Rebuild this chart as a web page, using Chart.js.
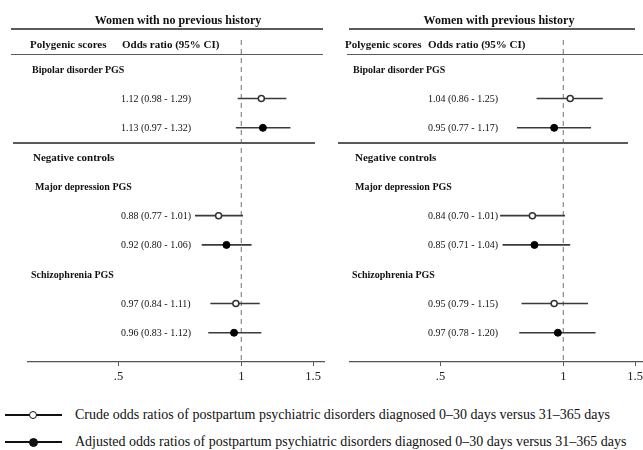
<!DOCTYPE html>
<html>
<head>
<meta charset="utf-8">
<script src="https://cdn.jsdelivr.net/npm/chart.js@4.4.0/dist/chart.umd.min.js"></script>
<style>
  html, body { margin:0; padding:0; background:#fff; }
  #wrap { position:relative; width:643px; height:450px; overflow:hidden; font-family:"Liberation Serif","Times New Roman",serif; color:#111; }
  canvas { position:absolute; top:0; }
  .t { position:absolute; white-space:nowrap; line-height:1; }
  .b { font-weight:bold; }
  .rule { position:absolute; height:1.5px; background:#5a5a5a; }
</style>
</head>
<body>
<div id="wrap">
  <canvas id="c1" width="330" height="392" style="left:0px"></canvas>
  <canvas id="c2" width="330" height="392" style="left:322px"></canvas>
</div>
<script>
// ---------- data ----------
const panelTitles = ['Women with no previous history', 'Women with previous history'];
const colHeaders = ['Polygenic scores', 'Odds ratio (95% CI)'];
const sectionLabel = 'Negative controls';
const groups = ['Bipolar disorder PGS', 'Major depression PGS', 'Schizophrenia PGS'];
const estimateType = ['crude', 'adjusted', 'crude', 'adjusted', 'crude', 'adjusted'];

const noHistOR = [1.12, 1.13, 0.88, 0.92, 0.97, 0.96];
const noHistLo = [0.98, 0.97, 0.77, 0.80, 0.84, 0.83];
const noHistHi = [1.29, 1.32, 1.01, 1.06, 1.11, 1.12];

const prevHistOR = [1.04, 0.95, 0.84, 0.85, 0.95, 0.97];
const prevHistLo = [0.86, 0.77, 0.70, 0.71, 0.79, 0.78];
const prevHistHi = [1.25, 1.17, 1.01, 1.04, 1.15, 1.20];

const xTicks = [0.5, 1, 1.5];
const xTickLabels = ['.5', '1', '1.5'];
const nullValue = 1;

const legendLabels = [
  'Crude odds ratios of postpartum psychiatric disorders diagnosed 0\u201330 days versus 31\u2013365 days',
  'Adjusted odds ratios of postpartum psychiatric disorders diagnosed 0\u201330 days versus 31\u2013365 days'
];

// ---------- layout (row slots) ----------
const groupRow = [0, 4, 7];
const sectionRow = 3;
const dataRow = [1, 2, 5, 6, 8, 9];

const wrap = document.getElementById('wrap');
function addText(txt, x, y, size, bold, align) {
  const d = document.createElement('div');
  d.className = 't' + (bold ? ' b' : '');
  d.textContent = txt;
  d.style.fontSize = size + 'px';
  d.style.left = x + 'px';
  d.style.top = y + 'px';
  d.style.transform = align === 'right' ? 'translate(-100%,-50%)' : (align === 'center' ? 'translate(-50%,-50%)' : 'translate(0,-50%)');
  wrap.appendChild(d);
  return d;
}
function addRule(x1, x2, y) {
  const d = document.createElement('div');
  d.className = 'rule';
  d.style.left = x1 + 'px';
  d.style.width = (x2 - x1) + 'px';
  d.style.top = (y - 0.75) + 'px';
  wrap.appendChild(d);
}

function makePanel(canvasId, or, lo, hi, cfg) {
  const datasets = [];
  datasets.push({
    data: [{x: nullValue, y: -1}, {x: nullValue, y: 10}],
    showLine: true, borderColor: '#707070', borderWidth: 1, borderDash: [5, 4],
    pointRadius: 0, order: 3
  });
  or.forEach((v, i) => {
    datasets.push({
      data: [{x: lo[i], y: dataRow[i]}, {x: hi[i], y: dataRow[i]}],
      showLine: true, borderColor: '#3a3a3a', borderWidth: 1.6,
      pointRadius: 0, order: 2
    });
  });
  datasets.push({
    data: or.map((v, i) => ({x: v, y: dataRow[i]})).filter((p, i) => estimateType[i] === 'crude'),
    pointRadius: 3, pointBackgroundColor: '#ffffff', pointBorderColor: '#333',
    pointBorderWidth: 1.5, order: 1
  });
  datasets.push({
    data: or.map((v, i) => ({x: v, y: dataRow[i]})).filter((p, i) => estimateType[i] === 'adjusted'),
    pointRadius: 3.5, pointBackgroundColor: '#000', pointBorderColor: '#000',
    pointBorderWidth: 1, order: 0
  });

  const chart = new Chart(document.getElementById(canvasId), {
    type: 'scatter',
    data: { datasets },
    options: {
      responsive: false, animation: false, devicePixelRatio: 1,
      layout: { padding: { left: 28, right: 5, top: 40, bottom: 0 } },
      plugins: { legend: { display: false }, tooltip: { enabled: false } },
      scales: {
        x: {
          type: 'logarithmic', min: 0.3, max: 1.6,
          afterBuildTicks: s => { s.ticks = xTicks.map(v => ({ value: v })); },
          afterFit: s => { s.height = 30; },
          ticks: {
            autoSkip: false, maxRotation: 0, padding: 3, color: '#222',
            font: { family: 'Liberation Serif', size: 12.5 },
            callback: (v, i) => xTickLabels[i]
          },
          grid: { display: true, drawOnChartArea: false, drawTicks: true, tickLength: 4, color: '#555' },
          border: { display: true, color: '#555', width: 1.2 }
        },
        y: { type: 'linear', min: -1, max: 10, reverse: true, display: false }
      }
    }
  });

  const ys = chart.scales.y;
  addText(cfg.title, cfg.titleX, 20, 12, true, 'center');
  addText(colHeaders[0], cfg.h1X, 43.5, 11, true);
  addText(colHeaders[1], cfg.h2X, 43.5, 11, true);
  addRule(cfg.r1[0], cfg.r1[1], 29);
  addRule(cfg.r2[0], cfg.r2[1], 54.5);
  addRule(cfg.r3[0], cfg.r3[1], (ys.getPixelForValue(2) + ys.getPixelForValue(3)) / 2 + 0.5);
  groups.forEach((g, k) => addText(g, cfg.gX[k], ys.getPixelForValue(groupRow[k]) + 1, 10, true));
  addText(sectionLabel, cfg.sX, ys.getPixelForValue(sectionRow), 11, true);
  or.forEach((v, i) => {
    const s = v.toFixed(2) + ' (' + lo[i].toFixed(2) + ' - ' + hi[i].toFixed(2) + ')';
    addText(s, cfg.labelLeft, ys.getPixelForValue(dataRow[i]) + 0.5, 10, false);
  });
  return chart;
}

makePanel('c1', noHistOR, noHistLo, noHistHi, {
  title: panelTitles[0], titleX: 178, h1X: 30, h2X: 122,
  r1: [11, 323], r2: [11, 323], r3: [13, 315],
  gX: [32, 35, 31], sX: 33, labelLeft: 121
});
makePanel('c2', prevHistOR, prevHistLo, prevHistHi, {
  title: panelTitles[1], titleX: 499, h1X: 345, h2X: 428,
  r1: [349, 635], r2: [347, 643], r3: [338, 628],
  gX: [353, 355, 352], sX: 355, labelLeft: 428
});

// ---------- legend ----------
function legendRow(y, filled, label) {
  const line = document.createElement('div');
  line.style.cssText = 'position:absolute;left:5px;width:57px;height:1.5px;background:#111;top:' + (y - 0.75) + 'px';
  wrap.appendChild(line);
  const c = document.createElement('div');
  const r = filled ? 4.5 : 4;
  c.style.cssText = 'position:absolute;box-sizing:border-box;border-radius:50%;border:1.6px solid #111;' +
    'width:' + (2 * r) + 'px;height:' + (2 * r) + 'px;left:' + (33 - r) + 'px;top:' + (y - r) + 'px;background:' + (filled ? '#111' : '#fff');
  wrap.appendChild(c);
  addText(label, 75, y, 14, false);
}
legendRow(415, false, legendLabels[0]);
legendRow(442, true, legendLabels[1]);
</script>
</body>
</html>
